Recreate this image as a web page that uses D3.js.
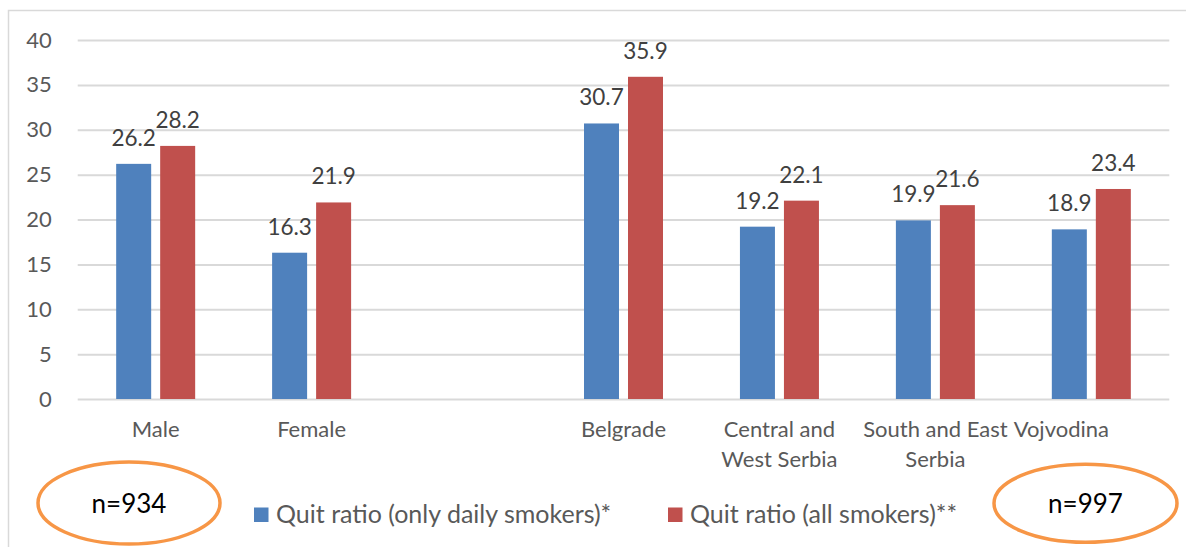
<!DOCTYPE html>
<html>
<head>
<meta charset="utf-8">
<script src="https://cdn.jsdelivr.net/npm/d3@7"></script>
<style>
  html, body { margin: 0; padding: 0; background: #fff; }
  svg { display: block; font-family: Lato, "Open Sans", sans-serif; }
</style>
</head>
<body>
<svg id="chart" width="1186" height="547"></svg>
<script>
// Categories (the empty key leaves a gap between the sex and region groups)
const categories = ["Male", "Female", "", "Belgrade", "Central and West Serbia", "South and East Serbia", "Vojvodina"];
const tickLabels = [["Male"], ["Female"], [], ["Belgrade"], ["Central and", "West Serbia"], ["South and East", "Serbia"], ["Vojvodina"]];
const dailySmokers = [26.2, 16.3, null, 30.7, 19.2, 19.9, 18.9];
const allSmokers = [28.2, 21.9, null, 35.9, 22.1, 21.6, 23.4];
const seriesNames = ["Quit ratio (only daily smokers)*", "Quit ratio (all smokers)**"];
const seriesColors = ["#4F81BD", "#C0504D"];
const yTicks = [0, 5, 10, 15, 20, 25, 30, 35, 40];
const sampleNotes = ["n=934", "n=997"];

const svg = d3.select("#chart");
const W = 1186, H = 547;
const plot = { left: 77.7, right: 1169.3, top: 40, bottom: 399 };

// outer chart frame
svg.append("rect")
  .attr("x", 8.5).attr("y", 10.5)
  .attr("width", W + 20).attr("height", H + 20)
  .attr("fill", "#fff").attr("stroke", "#D9D9D9").attr("stroke-width", 1.5);

const x = d3.scaleBand().domain(categories).range([plot.left, plot.right]).paddingInner(0).paddingOuter(0);
const y = d3.scaleLinear().domain([0, 40]).range([plot.bottom, plot.top]);

// horizontal gridlines + y tick labels
const yAxis = d3.axisLeft(y).tickValues(yTicks).tickSize(-(plot.right - plot.left)).tickPadding(26);
const gy = svg.append("g").attr("transform", `translate(${plot.left},0)`).call(yAxis);
gy.select(".domain").remove();
gy.selectAll(".tick line").attr("stroke", "#D9D9D9").attr("stroke-width", 2);
gy.selectAll(".tick text")
  .attr("fill", "#595959").attr("font-size", 22).attr("font-family", "Lato, sans-serif");

// bars
const barW = 35, innerGap = 9;
const groupW = barW * 2 + innerGap;
const series = [dailySmokers, allSmokers];
series.forEach((vals, si) => {
  const data = categories.map((c, i) => ({ c, v: vals[i] })).filter(d => d.v != null);
  const xOff = (x.bandwidth() - groupW) / 2 + si * (barW + innerGap);
  svg.append("g").selectAll("rect").data(data).join("rect")
    .attr("x", d => x(d.c) + xOff)
    .attr("y", d => y(d.v))
    .attr("width", barW)
    .attr("height", d => y(0) - y(d.v))
    .attr("fill", seriesColors[si]);
  svg.append("g").selectAll("text").data(data).join("text")
    .attr("x", d => x(d.c) + xOff + barW / 2)
    .attr("y", d => y(d.v) - 18)
    .attr("text-anchor", "middle")
    .attr("font-size", 22.5)
    .attr("fill", "#404040")
    .text(d => d.v.toFixed(1));
});

// category labels
const labelShift = { "Vojvodina": -30 };
categories.forEach((c, i) => {
  const t = svg.append("text")
    .attr("x", x(c) + x.bandwidth() / 2 + (labelShift[c] || 0))
    .attr("y", 437)
    .attr("text-anchor", "middle")
    .attr("font-size", 22)
    .attr("fill", "#595959");
  tickLabels[i].forEach((line, li) => {
    t.append("tspan")
      .attr("x", x(c) + x.bandwidth() / 2 + (labelShift[c] || 0))
      .attr("dy", li === 0 ? 0 : 30)
      .text(line);
  });
});

// legend
const legend = [{ x: 254, name: seriesNames[0], color: seriesColors[0] },
                { x: 668, name: seriesNames[1], color: seriesColors[1] }];
legend.forEach(l => {
  svg.append("rect").attr("x", l.x).attr("y", 507.5).attr("width", 14.5).attr("height", 14.5).attr("fill", l.color);
  svg.append("text").attr("x", l.x + 22).attr("y", 522.5).attr("font-size", 25).attr("fill", "#595959").text(l.name);
});

// sample size callouts
const notes = [{ cx: 129, cy: 503, rx: 91, ry: 41, text: sampleNotes[0] },
               { cx: 1085.5, cy: 503.3, rx: 91.5, ry: 39, text: sampleNotes[1] }];
notes.forEach(n => {
  svg.append("ellipse").attr("cx", n.cx).attr("cy", n.cy).attr("rx", n.rx).attr("ry", n.ry)
    .attr("fill", "none").attr("stroke", "#F79646").attr("stroke-width", 3.5);
  svg.append("text").attr("x", n.cx).attr("y", n.cy + 9.5).attr("text-anchor", "middle")
    .attr("font-size", 26).attr("fill", "#000").text(n.text);
});
</script>
</body>
</html>
